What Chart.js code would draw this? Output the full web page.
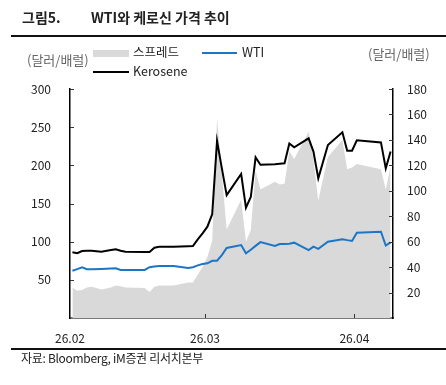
<!DOCTYPE html>
<html>
<head>
<meta charset="utf-8">
<script src="https://cdn.jsdelivr.net/npm/chart.js@4"></script>
<style>
  html, body { margin: 0; padding: 0; background: #fff; }
  body { width: 446px; height: 385px; position: relative; overflow: hidden;
         font-family: 'Noto Sans CJK KR', 'Noto Sans', sans-serif; color: #222; }
  #wrap { position: absolute; left: 0; top: 0; width: 446px; height: 385px; }
  .abs { position: absolute; white-space: nowrap; line-height: 1; }
  .title { top: 10px; font-size: 14px; font-weight: bold; }
  .rule { position: absolute; left: 11px; right: 0; background: #111; }
  .unit { font-size: 13px; color: #666; }
  .leg { font-size: 12.5px; color: #222; }
  .swatch { position: absolute; }
  .src { font-size: 12px; left: 21px; top: 352px; letter-spacing: -0.3px; }
</style>
</head>
<body>
<div id="wrap"><canvas id="chart" width="446" height="385"></canvas></div>

<div class="abs title" style="left:22px">그림5.</div>
<div class="abs title" style="left:91px">WTI와 케로신 가격 추이</div>
<div class="rule" style="top:35px;height:2px"></div>

<div class="abs unit" style="left:27px;top:53px">(달러/배럴)</div>
<div class="abs unit" style="left:368px;top:47px">(달러/배럴)</div>

<div class="swatch" style="left:93px;top:50px;width:36px;height:7px;background:#d9d9d9"></div>
<div class="abs leg" style="left:133px;top:46px">스프레드</div>
<div class="swatch" style="left:202px;top:52px;width:35px;height:2px;background:#1c75c6"></div>
<div class="abs leg" style="left:242px;top:46px">WTI</div>
<div class="swatch" style="left:93px;top:71px;width:36px;height:2px;background:#000"></div>
<div class="abs leg" style="left:133px;top:65px">Kerosene</div>

<div class="rule" style="top:348px;height:1.5px"></div>
<div class="abs src">자료: Bloomberg, iM증권 리서치본부</div>

<script>
// 날짜 (2026년)
const dates = ['02-01','02-02','02-03','02-04','02-05','02-07','02-09','02-10','02-11','02-12',
               '02-16','02-17','02-18','02-19','02-22','02-25','02-26','02-27','02-28','03-01',
               '03-02','03-03','03-04','03-05','03-08','03-09','03-10','03-11','03-12','03-15',
               '03-16','03-17','03-18','03-19','03-22','03-23','03-24','03-26','03-29','03-30',
               '03-31','04-01','04-06','04-07','04-08'];

// 케로신 (달러/배럴, 좌축)
const kerosene = [86, 85, 87.8, 88, 88.2, 86.9, 89, 90, 88, 86.9,
                  86.5, 86.5, 92, 93.4, 93.4, 94, 94.3, 103, 111, 119.6,
                  136, 232, 196, 161, 188.7, 144.5, 158.5, 210.5, 200.8, 201.5,
                  202, 202.6, 228.5, 223.6, 235.4, 218, 183, 226.6, 243.3, 219.2,
                  219.2, 232.8, 230, 196, 218];

// WTI (달러/배럴, 좌축)
const wti = [62, 64, 66.4, 63.8, 64, 64.3, 64.8, 65.1, 62.9, 62.9,
             62.9, 66.6, 67.5, 68.1, 68.1, 65.5, 66.5, 69, 70.7, 71.7,
             74.9, 75.1, 82.5, 91.8, 95.6, 84.8, 89.5, 94.5, 99.4, 94.3,
             97, 97, 97.4, 98.7, 89, 93.4, 90.6, 100, 103.3, 102,
             100.9, 111.8, 113, 95, 99];

// 스프레드 (우축)
const spread = [24, 21.5, 22, 24, 24.5, 22.5, 24, 25.5, 25, 24,
                23.6, 20.5, 24.5, 25.5, 25.5, 28, 28, 34, 40, 48,
                61, 157, 113, 69.5, 93, 60, 69, 116, 101, 107,
                105, 105.6, 131, 125, 146.4, 124.6, 92.4, 126.6, 140, 117,
                118.3, 121, 117, 101, 119];

const tickDates = ['02-01', '03-01', '04-01'];
const tickLabels = ['26.02', '26.03', '26.04'];
const axisEnd = '04-09';

function dayIndex(md) {
    const [m, d] = md.split('-').map(Number);
    return (Date.UTC(2026, m - 1, d) - Date.UTC(2026, 1, 1)) / 86400000;
}
// 날짜 축: 각 날짜 칸의 가운데에 점을 찍음
const pts = arr => arr.map((v, i) => ({ x: dayIndex(dates[i]) + 0.5, y: v }));

const FONT = "'Noto Sans CJK KR', 'Noto Sans', sans-serif";

const innerTicks = {
    id: 'innerTicks',
    afterDraw(chart) {
        const { ctx, chartArea: a, scales } = chart;
        ctx.save();
        ctx.strokeStyle = '#333';
        ctx.lineWidth = 1;
        ctx.beginPath();
        scales.y.ticks.forEach(t => {
            if (t.value === 0) return;
            const py = Math.round(scales.y.getPixelForValue(t.value)) + 0.5;
            ctx.moveTo(a.left, py); ctx.lineTo(a.left + 4, py);
        });
        scales.y2.ticks.forEach(t => {
            if (t.value === 0) return;
            const py = Math.round(scales.y2.getPixelForValue(t.value)) + 0.5;
            ctx.moveTo(a.right, py); ctx.lineTo(a.right - 4, py);
        });
        scales.x.ticks.forEach(t => {
            if (t.value <= scales.x.min) return;
            const px = Math.round(scales.x.getPixelForValue(t.value)) + 0.5;
            ctx.moveTo(px, a.bottom); ctx.lineTo(px, a.bottom - 4);
        });
        ctx.stroke();
        ctx.restore();
    }
};

new Chart(document.getElementById('chart').getContext('2d'), {
    type: 'line',
    data: {
        datasets: [
            {
                label: 'Kerosene',
                data: pts(kerosene),
                borderColor: '#000',
                borderWidth: 2,
                pointRadius: 0,
                yAxisID: 'y',
                order: 1
            },
            {
                label: 'WTI',
                data: pts(wti),
                borderColor: '#1c75c6',
                borderWidth: 2,
                pointRadius: 0,
                yAxisID: 'y',
                order: 2
            },
            {
                label: '스프레드',
                data: pts(spread),
                borderWidth: 0,
                borderColor: 'rgba(0,0,0,0)',
                backgroundColor: '#d9d9d9',
                fill: 'origin',
                pointRadius: 0,
                yAxisID: 'y2',
                order: 3
            }
        ]
    },
    options: {
        responsive: false,
        animation: false,
        layout: { padding: { top: 89, left: 0, right: 0, bottom: 0 } },
        plugins: {
            legend: { display: false },
            tooltip: { enabled: false }
        },
        scales: {
            x: {
                type: 'linear',
                min: 0,
                max: dayIndex(axisEnd),
                afterBuildTicks: scale => {
                    scale.ticks = tickDates.map(d => ({ value: dayIndex(d) }));
                },
                afterFit: scale => { scale.height = 385 - 318; },
                ticks: {
                    autoSkip: false,
                    maxRotation: 0,
                    padding: 13,
                    color: '#222',
                    font: { family: FONT, size: 12 },
                    callback: (value, index) => tickLabels[index]
                },
                grid: { drawOnChartArea: false, drawTicks: false },
                border: { display: true, color: '#7a7a7a', width: 2 }
            },
            y: {
                position: 'left',
                min: 0,
                max: 300,
                afterFit: scale => { scale.width = 70; },
                ticks: {
                    stepSize: 50,
                    padding: 19,
                    color: '#222',
                    font: { family: FONT, size: 12 },
                    callback: v => (v === 0 ? '' : v)
                },
                grid: { drawOnChartArea: false, drawTicks: false },
                border: { display: true, color: '#000', width: 1.5 }
            },
            y2: {
                position: 'right',
                min: 0,
                max: 180,
                afterFit: scale => { scale.width = 446 - 393; },
                ticks: {
                    stepSize: 20,
                    padding: 14,
                    color: '#222',
                    font: { family: FONT, size: 12 },
                    callback: v => (v === 0 ? '' : v)
                },
                grid: { drawOnChartArea: false, drawTicks: false },
                border: { display: true, color: '#000', width: 1.5 }
            }
        }
    },
    plugins: [innerTicks]
});
</script>
</body>
</html>
